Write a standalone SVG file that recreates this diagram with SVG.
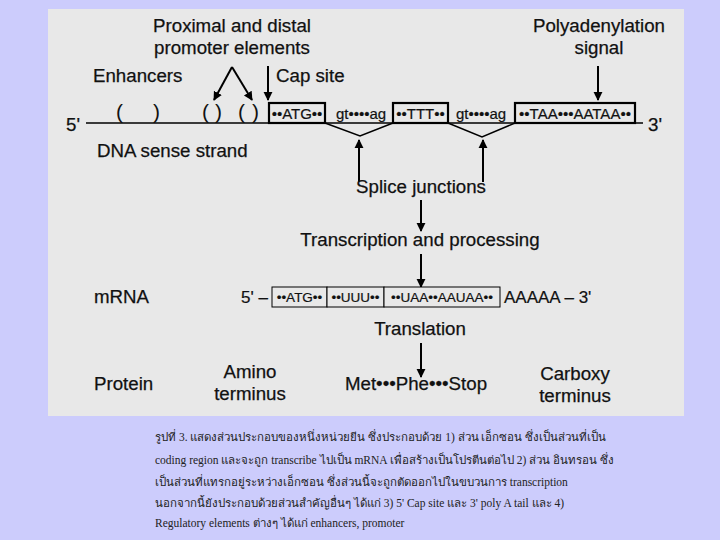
<svg xmlns="http://www.w3.org/2000/svg" width="720" height="540" viewBox="0 0 720 540">
<defs>
<marker id="ah" viewBox="0 0 10 10" refX="9" refY="5" markerWidth="4.5" markerHeight="6" orient="auto" markerUnits="strokeWidth"><path d="M0,0 L10,5 L0,10 z" fill="#000"/></marker>
<style>
.t{font-family:"Liberation Sans",Arial,sans-serif;font-size:18.7px;fill:#111;stroke:#111;stroke-width:0.25}
.s{font-family:"Liberation Sans",Arial,sans-serif;font-size:17px;fill:#111;stroke:#111;stroke-width:0.2}
.m{font-family:"Liberation Sans",Arial,sans-serif;font-size:13.5px;fill:#111;stroke:#111;stroke-width:0.2}
.b{font-family:"Liberation Sans",Arial,sans-serif;font-size:15px;fill:#111;stroke:#111;stroke-width:0.2}
.p{font-family:"Liberation Sans",Arial,sans-serif;font-size:21px;fill:#111}
.c{font-family:"Liberation Serif","Times New Roman",serif;font-size:11.5px;fill:#222}
.ar{stroke:#000;stroke-width:2;fill:none;marker-end:url(#ah)}
.ln{stroke:#000;stroke-width:1.5;fill:none}
.bx{stroke:#000;stroke-width:2.2;fill:#e8e8e8}
.bx2{stroke:#000;stroke-width:1;fill:#e8e8e8}
</style>
</defs>
<rect x="0" y="0" width="720" height="540" fill="#ccccfc"/>
<rect x="48" y="9" width="636" height="407" fill="#e8e8e8"/>

<g id="connectors">
<line class="ln" x1="86" y1="123" x2="643" y2="123"/>
<polyline class="ln" points="325,123 360,136 393,123"/>
<polyline class="ln" points="448,123 482,137 515,123"/>
<line class="ar" x1="232" y1="67" x2="214" y2="100"/>
<line class="ar" x1="232" y1="67" x2="252" y2="100"/>
<line class="ar" x1="268" y1="66" x2="268" y2="100"/>
<line class="ar" x1="598" y1="66" x2="598" y2="100"/>
<line class="ar" x1="359" y1="182" x2="359" y2="140"/>
<line class="ar" x1="483" y1="182" x2="483" y2="140"/>
<line class="ar" x1="421" y1="200" x2="421" y2="231"/>
<line class="ar" x1="421" y1="254" x2="421" y2="287"/>
<line class="ar" x1="421" y1="343" x2="421" y2="377"/>
</g>

<g id="promoter-label"><text class="t" x="232" y="32" text-anchor="middle">Proximal and distal</text><text class="t" x="232" y="54" text-anchor="middle">promoter elements</text></g>
<g id="poly-label"><text class="t" x="599" y="32" text-anchor="middle">Polyadenylation</text><text class="t" x="599" y="54" text-anchor="middle">signal</text></g>
<g id="enhancers"><text class="t" x="93" y="82">Enhancers</text></g>
<g id="cap-site"><text class="t" x="276" y="82">Cap site</text></g>
<g id="parens"><text class="p" x="116" y="119">(</text><text class="p" x="153" y="119">)</text><text class="p" x="202" y="119">(</text><text class="p" x="215" y="119">)</text><text class="p" x="238" y="119">(</text><text class="p" x="252" y="119">)</text></g>
<g id="ends"><text class="t" x="66" y="131">5'</text><text class="t" x="648" y="131">3'</text></g>
<g id="exon1"><rect class="bx" x="269" y="103" width="56" height="20"/><text class="b" x="297" y="119" text-anchor="middle">••ATG••</text></g>
<g id="intron1"><text class="b" x="361" y="119" text-anchor="middle">gt••••ag</text></g>
<g id="exon2"><rect class="bx" x="393" y="103" width="55" height="20"/><text class="b" x="420.5" y="119" text-anchor="middle">••TTT••</text></g>
<g id="intron2"><text class="b" x="481" y="119" text-anchor="middle">gt••••ag</text></g>
<g id="exon3"><rect class="bx" x="515" y="103" width="120" height="20"/><text class="b" x="575" y="119" text-anchor="middle">••TAA•••AATAA••</text></g>
<g id="dna-label"><text class="t" x="97" y="157">DNA sense strand</text></g>
<g id="splice"><text class="t" x="421" y="193" text-anchor="middle">Splice junctions</text></g>
<g id="transcription"><text class="t" x="420" y="246" text-anchor="middle">Transcription and processing</text></g>
<g id="mrna-label"><text class="t" x="94" y="303">mRNA</text></g>
<g id="mrna"><text class="s" x="268" y="303" text-anchor="end">5' –</text>
<rect class="bx2" x="272" y="287" width="55" height="20"/><text class="m" x="299.5" y="302" text-anchor="middle">••ATG••</text>
<rect class="bx2" x="327" y="287" width="57" height="20"/><text class="m" x="355.5" y="302" text-anchor="middle">••UUU••</text>
<rect class="bx2" x="384" y="287" width="116" height="20"/><text class="m" x="442" y="302" text-anchor="middle">••UAA••AAUAA••</text>
<text class="s" x="504" y="303">AAAAA – 3'</text></g>
<g id="translation"><text class="t" x="420" y="335" text-anchor="middle">Translation</text></g>
<g id="protein-label"><text class="t" x="94" y="390">Protein</text></g>
<g id="amino"><text class="t" x="250" y="378" text-anchor="middle">Amino</text><text class="t" x="250" y="400" text-anchor="middle">terminus</text></g>
<g id="protein"><text class="t" x="416" y="390" text-anchor="middle">Met•••Phe•••Stop</text></g>
<g id="carboxy"><text class="t" x="575" y="380" text-anchor="middle">Carboxy</text><text class="t" x="575" y="402" text-anchor="middle">terminus</text></g>

<g id="caption">
<text class="c" x="155" y="441">รูปที่ 3. แสดงส่วนประกอบของหนึ่งหน่วยยีน ซึ่งประกอบด้วย 1) ส่วน เอ็กซอน ซึ่งเป็นส่วนที่เป็น</text>
<text class="c" x="155" y="464">coding region และจะถูก transcribe ไปเป็น mRNA เพื่อสร้างเป็นโปรตีนต่อไป 2) ส่วน อินทรอน ซึ่ง</text>
<text class="c" x="155" y="486">เป็นส่วนที่แทรกอยู่ระหว่างเอ็กซอน ซึ่งส่วนนี้จะถูกตัดออกไปในขบวนการ transcription</text>
<text class="c" x="155" y="507">นอกจากนี้ยังประกอบด้วยส่วนสำคัญอื่นๆ ได้แก่ 3) 5' Cap site และ 3' poly A tail และ 4)</text>
<text class="c" x="155" y="527">Regulatory elements ต่างๆ ได้แก่ enhancers, promoter</text>
</g>
</svg>
